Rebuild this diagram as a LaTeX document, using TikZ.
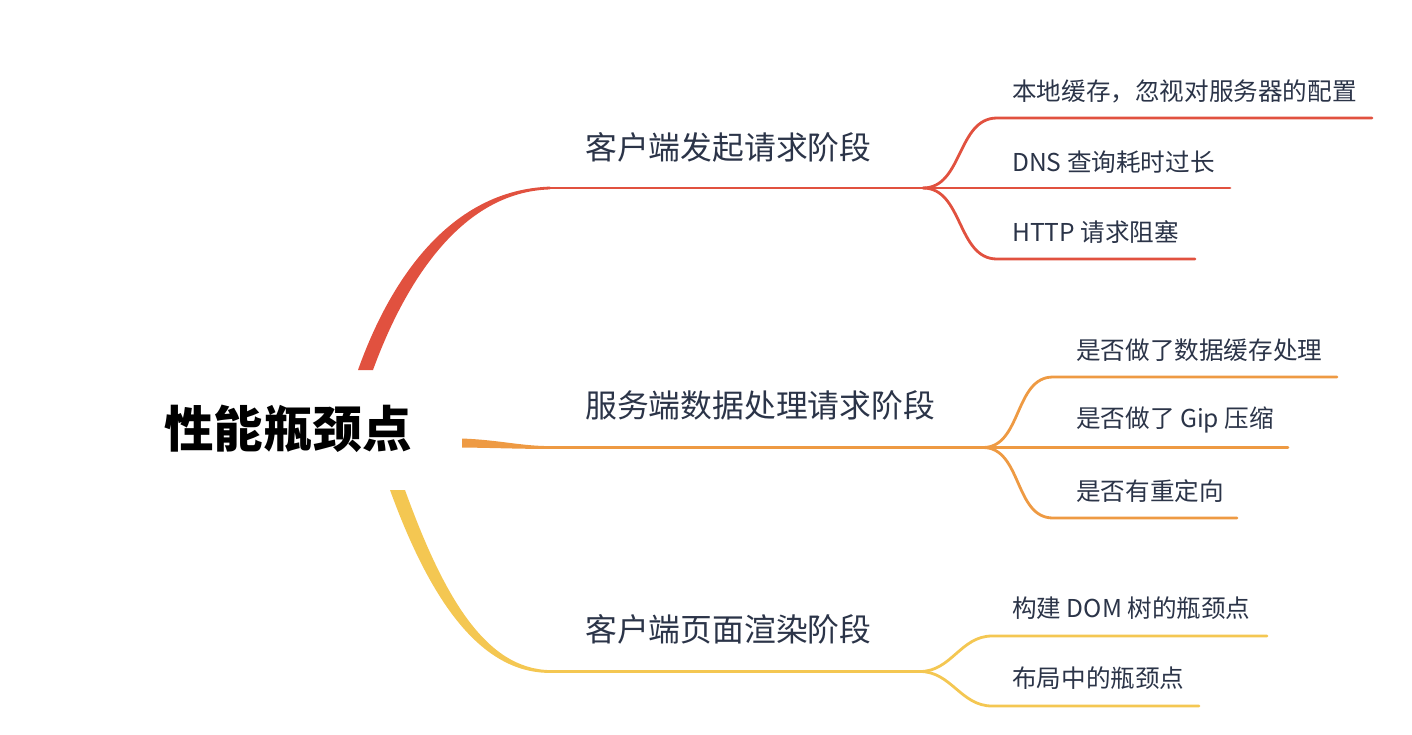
\documentclass[tikz,border=0pt]{standalone}
\usepackage{fontspec}
\setmainfont{Noto Sans CJK SC}
\definecolor{redbr}{HTML}{E1513F}
\definecolor{orangebr}{HTML}{EE9A43}
\definecolor{yellowbr}{HTML}{F4C752}
\definecolor{txt}{HTML}{2B3448}

\begin{document}
\begin{tikzpicture}[x=1pt, y=-1pt,
    topic/.style={anchor=west, inner sep=0pt, text=txt, font=\fontsize{31.8}{36}\selectfont},
    leaf/.style={anchor=west, inner sep=0pt, text=txt, font=\fontsize{24.6}{28}\selectfont},
    twig/.style={line width=2.8pt, line cap=round}]
    \useasboundingbox (0,0) rectangle (1412,734);

    \node[inner sep=0pt, font=\fontsize{49.5}{56}\selectfont\bfseries] (root) at (288,429) {性能瓶颈点};

    % thick roots of the three branches
    \fill[redbr] (358,370) .. controls (390,280) and (450,190) .. (550,186.6)
        -- (550,189.4) .. controls (460,192) and (404,285) .. (373,370) -- cycle;
    \fill[orangebr] (462,438.5) .. controls (500,440) and (520,446) .. (550,446.1)
        -- (550,448.9) .. controls (520,449) and (500,448) .. (462,447.5) -- cycle;
    \fill[yellowbr] (390,490) .. controls (430,600) and (480,673) .. (550,672.9)
        -- (550,670.1) .. controls (485,669) and (443,595) .. (405,490) -- cycle;

    % red branch
    \node[topic] (c1) at (585,147) {客户端发起请求阶段};
    \coordinate (c1s) at (550,188);
    \coordinate (c1j) at (923,188);
    \node[leaf] (c11) at (1012,91) {本地缓存，忽视对服务器的配置};
    \node[leaf] (c12) at (1012,162) {DNS 查询耗时过长};
    \node[leaf] (c13) at (1012,232) {HTTP 请求阻塞};
    \coordinate (c11s) at (997,118);  \coordinate (c11e) at (1372,118);
    \coordinate (c12e) at (1230,188);
    \coordinate (c13s) at (997,259);  \coordinate (c13e) at (1195,259);

    \draw[twig, redbr] (c1s) -- (c1j);
    \draw[twig, redbr] (c1j) to[out=0,in=180] (c11s) -- (c11e);
    \draw[twig, redbr] (c1j) -- (c12e);
    \draw[twig, redbr] (c1j) to[out=0,in=180] (c13s) -- (c13e);

    % orange branch
    \node[topic] (s1) at (585,405) {服务端数据处理请求阶段};
    \coordinate (s1s) at (550,447.5);
    \coordinate (s1j) at (983,447.5);
    \node[leaf] (s11) at (1076,350) {是否做了数据缓存处理};
    \node[leaf] (s12) at (1076,420) {是否做了 Gip 压缩};
    \node[leaf] (s13) at (1076,491) {是否有重定向};
    \coordinate (s11s) at (1053,377);  \coordinate (s11e) at (1337,377);
    \coordinate (s12e) at (1288,447.5);
    \coordinate (s13s) at (1053,518);  \coordinate (s13e) at (1237,518);

    \draw[twig, orangebr] (s1s) -- (s1j);
    \draw[twig, orangebr] (s1j) to[out=0,in=180] (s11s) -- (s11e);
    \draw[twig, orangebr] (s1j) -- (s12e);
    \draw[twig, orangebr] (s1j) to[out=0,in=180] (s13s) -- (s13e);

    % yellow branch
    \node[topic] (p1) at (585,629) {客户端页面渲染阶段};
    \coordinate (p1s) at (550,671.5);
    \coordinate (p1j) at (920,671.5);
    \node[leaf] (p11) at (1012,608) {构建 DOM 树的瓶颈点};
    \node[leaf] (p12) at (1012,678) {布局中的瓶颈点};
    \coordinate (p11s) at (992,636);  \coordinate (p11e) at (1267,636);
    \coordinate (p12s) at (992,706);  \coordinate (p12e) at (1199,706);

    \draw[twig, yellowbr] (p1s) -- (p1j);
    \draw[twig, yellowbr] (p1j) to[out=0,in=180] (p11s) -- (p11e);
    \draw[twig, yellowbr] (p1j) to[out=0,in=180] (p12s) -- (p12e);
\end{tikzpicture}
\end{document}
